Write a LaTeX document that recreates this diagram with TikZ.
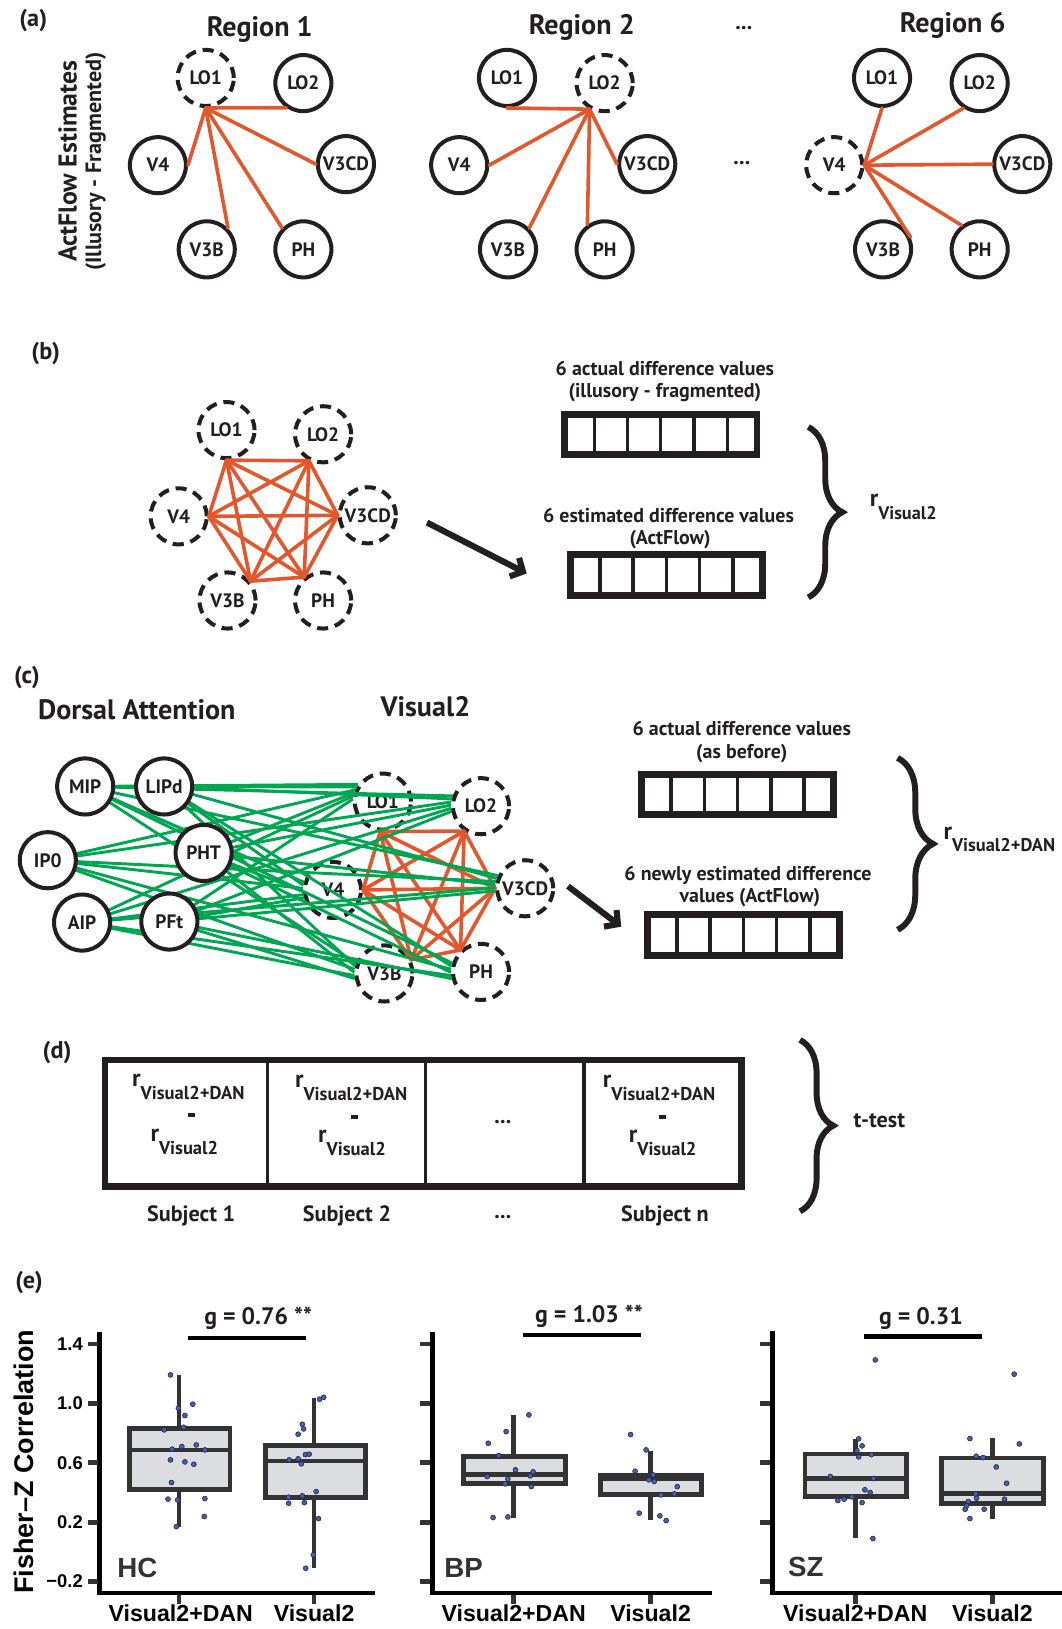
\documentclass[tikz,border=0pt]{standalone}
\usepackage{fontspec}
\setmainfont{PT Sans}
\newfontfamily\hvf{Liberation Sans}
\usetikzlibrary{arrows.meta,decorations.pathreplacing,calc}
\definecolor{ink}{RGB}{35,31,32}
\definecolor{ora}{RGB}{226,87,44}
\definecolor{grn}{RGB}{0,166,81}
\definecolor{dgray}{RGB}{51,51,51}
\definecolor{bxfill}{RGB}{220,221,224}
\definecolor{dotc}{RGB}{72,94,168}
\definecolor{dotl}{RGB}{28,36,84}
\newcommand{\fs}[1]{\fontsize{#1}{#1}\selectfont}
\newcommand{\rlab}[3]{{\fs{17.5}r}\raisebox{-#3}{\fs{#2}#1}}
\newcommand{\cellrow}[3]{%
  \node[vecbox] (#1) at (#2,#3) {};
  \foreach \k in {1,...,5}
    \draw[line width=2.5pt, draw=ink] ($(#1.north west)!\k/6!(#1.north east)$) -- ($(#1.south west)!\k/6!(#1.south east)$);
}
\newcommand{\bxp}[8]{%
  \draw[wsk] (#6,#7) -- (#6,#8);
  \draw[bxs] ({#1+2.3},{#3+2.3}) rectangle ({#2-2.3},{#4-2.3});
  \draw[wsk] ({#1+2.3},#5) -- ({#2-2.3},#5);
}
\begin{document}
\begin{tikzpicture}[x=0.75pt,y=-0.75pt,
  lab/.style={font=\bfseries\fs{14.4}, text=ink, inner sep=0pt},
  ttl/.style={font=\bfseries\fs{20.3}, text=ink, inner sep=0pt},
  plab/.style={font=\bfseries\fs{17.5}, text=ink, inner sep=0pt},
  roi/.style={circle, draw=ink, line width=2.9pt, minimum size=40.5pt, inner sep=0pt, font=\bfseries\fs{14}, text=ink},
  roid/.style={roi, dash pattern=on 8pt off 5pt},
  dan/.style={roi, fill=white},
  orl/.style={draw=ora, line width=2.6pt, line cap=round},
  grl/.style={draw=grn, line width=2.1pt},
  vecbox/.style={rectangle, draw=ink, line width=5pt, minimum width=139pt, minimum height=29pt, inner sep=0pt},
  bigarrow/.style={draw=ink, line width=4.4pt, -{Straight Barb[length=7pt,width=15pt]}},
  curly/.style={decorate, decoration={brace, amplitude=#1}, draw=ink, line width=4.3pt},
  axl/.style={draw=black, line width=3.5pt},
  tkl/.style={draw=dgray, line width=3.5pt},
  wsk/.style={draw=dgray, line width=3.45pt},
  bxs/.style={draw=dgray, fill=bxfill, line width=3.45pt},
  tkt/.style={font=\hvf\bfseries\fs{13.3}, text=black, inner sep=0pt},
  xlab/.style={font=\hvf\bfseries\fs{16.7}, text=black, inner sep=0pt},
  grp/.style={font=\hvf\bfseries\fs{20}, text=dgray, inner sep=0pt},
  gl/.style={font=\bfseries\fs{17.2}, text=ink, inner sep=0pt},
  sub/.style={font=\bfseries\fs{16}, text=ink, inner sep=0pt},
  dsh/.style={fill=ink, minimum width=5.2pt, minimum height=3.2pt, inner sep=0pt, rectangle},
  dotst/.style={fill=dotc, draw=dotl, line width=0.4pt}
]
\useasboundingbox (0,0) rectangle (1022,1568);

% ---------------- panel (a)
\node[plab, anchor=base] (la) at (32,25.7) {(a)};
\node[ttl, anchor=base] (r1t) at (250,35.3) {Region 1};
\node[ttl, anchor=base] (r2t) at (560,33) {Region 2};
\node[ttl, anchor=base] (r6t) at (917,31.5) {Region 6};
\node[font=\bfseries\fs{16}, text=ink, inner sep=0pt, anchor=base] (dtop) at (716,28) {...};
\node[font=\bfseries\fs{16}, text=ink, inner sep=0pt, anchor=base] (dmid) at (714,158) {...};
\node[rotate=90, font=\bfseries\fs{18.6}, text=ink, inner sep=0pt] (vl1) at (65,155) {ActFlow Estimates};
\node[rotate=90, font=\bfseries\fs{16}, text=ink, inner sep=0pt] (vl2) at (92,155.6) {(Illusory - Fragmented)};

\node[roid] (a1LO1) at (198,75) {LO1};
\node[roi] (a1LO2) at (292,80) {LO2};
\node[roi] (a1V4) at (152,159) {V4};
\node[roi] (a1V3CD) at (333,158) {V3CD};
\node[roi] (a1V3B) at (199,240) {V3B};
\node[roi] (a1PH) at (292,240) {PH};

\node[roi] (a2LO1) at (488,75) {LO1};
\node[roid] (a2LO2) at (582,80) {LO2};
\node[roi] (a2V4) at (442,159) {V4};
\node[roi] (a2V3CD) at (623,158) {V3CD};
\node[roi] (a2V3B) at (489,240) {V3B};
\node[roi] (a2PH) at (582,240) {PH};

\node[roi] (a6LO1) at (849,75) {LO1};
\node[roi] (a6LO2) at (943,80) {LO2};
\node[roid] (a6V4) at (803,159) {V4};
\node[roi] (a6V3CD) at (984,158) {V3CD};
\node[roi] (a6V3B) at (850,240) {V3B};
\node[roi] (a6PH) at (943,240) {PH};

\draw[orl] (a1LO1.south) -- (a1LO2.235);
\draw[orl] (a1LO1.south) -- (a1V4.east);
\draw[orl] (a1LO1.south) -- (a1V3CD.west);
\draw[orl] (a1LO1.south) -- (a1V3B.45);
\draw[orl] (a1LO1.south) -- (a1PH.135);

\draw[orl] (a2LO2.240) -- (a2LO1.south);
\draw[orl] (a2LO2.240) -- (a2V4.east);
\draw[orl] (a2LO2.240) -- (a2V3CD.west);
\draw[orl] (a2LO2.240) -- (a2V3B.45);
\draw[orl] (a2LO2.240) -- (a2PH.125);

\draw[orl] (a6V4.east) -- (a6LO1.south);
\draw[orl] (a6V4.east) -- (a6LO2.237);
\draw[orl] (a6V4.east) -- (a6V3CD.west);
\draw[orl] (a6V4.east) -- (a6V3B.24);
\draw[orl] (a6V4.east) -- (a6PH.127);

% ---------------- panel (b)
\node[plab, anchor=base] (lb) at (44,346.5) {(b)};
\node[roid] (bLO1) at (218,414) {LO1};
\node[roid] (bLO2) at (311,418) {LO2};
\node[roid] (bV4) at (172,497) {V4};
\node[roid] (bV3CD) at (354,496) {V3CD};
\node[roid] (bV3B) at (219,578) {V3B};
\node[roid] (bPH) at (311,578) {PH};
\coordinate (bA) at (bLO1.south);
\coordinate (bB) at (bLO2.242);
\coordinate (bC) at (bV4.east);
\coordinate (bD) at (bV3CD.west);
\coordinate (bE) at (bV3B.40);
\coordinate (bF) at (bPH.129);
\foreach \u/\v in {A/B,A/C,A/D,A/E,A/F,B/C,B/D,B/E,B/F,C/D,C/E,C/F,D/E,D/F,E/F}
  \draw[orl] (b\u) -- (b\v);

\coordinate (bas) at (411,503);
\coordinate (bae) at (507,552);
\draw[bigarrow] (bas) -- (bae);

\node[lab, anchor=base] (bt1) at (640,361.6) {6 actual difference values};
\node[lab, anchor=base] (bt2) at (640,383) {(illusory - fragmented)};
\cellrow{bx1}{636}{418.5}
\node[lab, anchor=base] (bt3) at (643.5,503) {6 estimated difference values};
\node[lab, anchor=base] (bt4) at (645,524.5) {(ActFlow)};
\cellrow{bx2}{641.5}{553.5}
\draw[curly=24.5pt] (778,411) -- (778,575);
\node[anchor=base west, inner sep=0pt, text=ink, font=\bfseries] (rb) at (837,487.6) {\rlab{Visual2}{13.2}{9.5pt}};

% ---------------- panel (c)
\node[plab, anchor=base] (lc) at (26,657.7) {(c)};
\node[ttl, anchor=base] (dant) at (131.7,693) {Dorsal Attention};
\node[ttl, anchor=base] (v2t) at (409.5,689.8) {Visual2};

\node[roid] (cLO1) at (368.5,771.6) {LO1};
\node[roid] (cLO2) at (463,776) {LO2};
\node[roid] (cV4) at (320.5,856.6) {V4};
\node[roid] (cV3CD) at (505.5,855) {V3CD};
\node[roid] (cV3B) at (370,937) {V3B};
\node[roid] (cPH) at (463,935.5) {PH};
\coordinate (cA) at (cLO1.265);
\coordinate (cB) at (cLO2.236);
\coordinate (cC) at (cV4.east);
\coordinate (cD) at (cV3CD.west);
\coordinate (cE) at (cV3B.27);
\coordinate (cF) at (cPH.133);
\foreach \u/\v in {A/B,A/C,A/D,A/E,A/F,B/C,B/D,B/E,B/F,C/D,C/E,C/F,D/E,D/F,E/F}
  \draw[orl] (c\u) -- (c\v);

\coordinate (sMIP) at (82,757);
\coordinate (sLIPd) at (158,757);
\coordinate (sIP0) at (46,828);
\coordinate (sPHT) at (196,821);
\coordinate (sAIP) at (79,888);
\coordinate (sPFt) at (163,887);
\foreach \s/\dd in {MIP/15, LIPd/9, IP0/3, PHT/-3, AIP/-9, PFt/-15} {
  \foreach \t/\ta in {cLO1/160, cLO2/175, cV4/180, cV3CD/170, cV3B/175, cPH/178} {
    \pgfmathtruncatemacro\ang{\ta-\dd}
    \draw[grl] (s\s) -- (\t.\ang);
  }
}
\node[dan] (cMIP) at (sMIP) {MIP};
\node[dan] (cLIPd) at (sLIPd) {LIPd};
\node[dan] (cIP0) at (sIP0) {IP0};
\node[dan] (cPHT) at (sPHT) {PHT};
\node[dan] (cAIP) at (sAIP) {AIP};
\node[dan] (cPFt) at (sPFt) {PFt};

\coordinate (cas) at (546.7,853);
\coordinate (cae) at (598,892);
\draw[bigarrow] (cas) -- (cae);

\node[lab, anchor=base] (ct1) at (714,708.4) {6 actual difference values};
\node[lab, anchor=base] (ct2) at (714,729.9) {(as before)};
\cellrow{cx1}{710}{765}
\node[lab, anchor=base] (ct3) at (720,847.6) {6 newly estimated difference};
\node[lab, anchor=base] (ct4) at (721.8,868.8) {values (ActFlow)};
\cellrow{cx2}{715.5}{900}
\draw[curly=25.5pt] (864,729.5) -- (864,895);
\node[anchor=base west, inner sep=0pt, text=ink, font=\bfseries] (rc) at (908,808.5) {\rlab{Visual2+DAN}{13.3}{8.5pt}};

% ---------------- panel (d)
\node[plab, anchor=base] (ld) at (55,1018.6) {(d)};
\node[rectangle, draw=ink, line width=4.8pt, minimum width=459.5pt, minimum height=91.2pt, inner sep=0pt] (dbox) at (407.5,1081) {};
\foreach \xv in {257.6,409.5,562}
  \draw[draw=ink, line width=2.4pt] (\xv,1019) -- (\xv,1143);
\node[anchor=base west, inner sep=0pt, text=ink, font=\bfseries] (d1u) at (127,1046) {\rlab{Visual2+DAN}{13.4}{9pt}};
\node[anchor=base west, inner sep=0pt, text=ink, font=\bfseries] (d1l) at (144.6,1099) {\rlab{Visual2}{13.4}{9pt}};
\node[dsh] (d1m) at (184.5,1073) {};
\node[anchor=base west, inner sep=0pt, text=ink, font=\bfseries] (d2u) at (283.7,1046.8) {\rlab{Visual2+DAN}{13.4}{9pt}};
\node[anchor=base west, inner sep=0pt, text=ink, font=\bfseries] (d2l) at (306,1099.8) {\rlab{Visual2}{13.4}{9pt}};
\node[dsh] (d2m) at (341,1075) {};
\node[sub, anchor=base] (d3m) at (484,1081) {...};
\node[anchor=base west, inner sep=0pt, text=ink, font=\bfseries] (d4u) at (580,1046.8) {\rlab{Visual2+DAN}{13.4}{9pt}};
\node[anchor=base west, inner sep=0pt, text=ink, font=\bfseries] (d4l) at (605,1100) {\rlab{Visual2}{13.4}{9pt}};
\node[dsh] (d4m) at (638,1075) {};
\node[sub, anchor=base] (s1) at (184,1175.8) {Subject 1};
\node[sub, anchor=base] (s2) at (334,1175.8) {Subject 2};
\node[sub, anchor=base] (s3) at (484,1173) {...};
\node[sub, anchor=base] (s4) at (640,1175.8) {Subject n};
\draw[curly=24pt] (770,1001) -- (770,1166);
\node[sub, anchor=base] (tt) at (846.4,1085) {t-test};

% ---------------- panel (e)
\node[plab, anchor=base] (le) at (28,1240) {(e)};
\node[rotate=90, font=\hvf\bfseries\fs{19.5}, text=black, inner sep=0pt] (fz) at (23,1407) {Fisher–Z Correlation};

\foreach \ax/\yt/\xend in {96/1281.7/360.6, 416/1281.7/685, 743.3/1280.7/1022} {
  \draw[axl] (\ax,\yt) -- (\ax,1535.6);
  \draw[axl] ({\ax-2.3},1533.3) -- (\xend,1533.3);
  \foreach \ty in {1293.6,1350.8,1408.0,1465.2,1522.4}
    \draw[tkl] ({\ax-11.5},\ty) -- ({\ax-2},\ty);
}
\foreach \xt in {172.3,302.3,494.5,626.2,823.2,955.3}
  \draw[tkl] (\xt,1535) -- (\xt,1543.5);

\node[tkt, anchor=east] (y14) at (80,1293.6) {1.4};
\node[tkt, anchor=east] (y10) at (80,1350.8) {1.0};
\node[tkt, anchor=east] (y06) at (80,1408.0) {0.6};
\node[tkt, anchor=east] (y02) at (80,1465.2) {0.2};
\node[tkt, anchor=east] (ym2) at (80,1522.4) {−0.2};

\bxp{122.6}{223.7}{1373}{1435.7}{1395.6}{172.3}{1323.4}{1469.4}
\bxp{253.5}{354}{1389}{1443.7}{1406.2}{302.3}{1345.8}{1509.5}
\bxp{443.5}{546.4}{1399.4}{1430.2}{1419.6}{494.5}{1361.9}{1460.7}
\bxp{575.4}{677.8}{1417.4}{1440.5}{1423.5}{626.2}{1396.2}{1463}
\bxp{772.6}{874.7}{1397.2}{1443}{1422.8}{823.2}{1385.3}{1480.6}
\bxp{904}{1006.8}{1401}{1449.5}{1437.3}{955.3}{1384.3}{1462.3}

\foreach \px/\py in {164.1/1323.4,171.7/1355.5,185.6/1351.6,178.0/1362.5,158.1/1376.3,176.7/1373.8,165.7/1394.9,175.0/1392.4,188.9/1390.8,197.2/1395.6,164.1/1405.2,178.0/1407.1,186.6/1409.4,165.1/1427.0,161.7/1443.0,171.0/1443.7,197.2/1442.4,196.6/1459.7,169.7/1469.4,
311.6/1344.9,307.6/1346.8,291.0/1370.9,292.3/1375.4,287.0/1380.5,278.4/1405.2,287.0/1404.2,294.0/1400.1,297.6/1399.7,290.0/1409.0,277.8/1441.1,277.8/1446.9,291.0/1439.8,293.0/1446.3,304.3/1435.7,306.6/1461.7,301.6/1496.6,294.3/1509.5,
470/1389.2,480/1401,487.2/1378,509.1/1361.9,496.2/1414.8,469/1421.2,488.9/1423.5,486.2/1428.3,510.4/1420.6,513.1/1416.7,511.4/1430.9,474.6/1460.7,488.9/1460.1,
607/1380.8,621.9/1395.6,611.3/1416.1,628.6/1419.6,624.6/1424.4,629.6/1426,651.9/1430.9,649.2/1437.9,636.2/1438.9,615.3/1456.5,635.2/1459.1,641.2/1463.6,
842.5/1309,826.5/1385,829.8/1391.7,824.8/1396.2,826.5/1402.3,838.8/1400.1,799.2/1421.2,840.8/1423.1,832.5/1434,837.5/1436.6,806.5/1444.3,812.5/1443,819.9/1440.8,829.8/1446.3,840.2/1480.9,
976.2/1322.7,933.6/1384.7,981.2/1389.8,939.6/1401.7,946.3/1403,958.9/1412,968.9/1427.7,939/1438,940/1442.1,966.9/1443,932/1445.3,930.3/1449.5,929/1452.7,947.3/1452.7,933.6/1461.7}
  \filldraw[dotst] (\px,\py) circle[radius=1.8pt];

\draw[draw=black, line width=3.4pt] (180.6,1288) -- (295,1288);
\draw[draw=black, line width=3.4pt] (503,1284.9) -- (617,1284.9);
\draw[draw=black, line width=3.4pt] (831.5,1286.2) -- (945.6,1286.2);
\node[gl, anchor=base] (g1) at (248.6,1275.3) {g = 0.76 **};
\node[gl, anchor=base] (g2) at (567,1273) {g = 1.03 **};
\node[gl, anchor=base] (g3) at (886.4,1274.6) {g = 0.31};

\node[grp, anchor=base west] (hc) at (112.7,1518.4) {HC};
\node[grp, anchor=base west] (bp) at (427.5,1518.4) {BP};
\node[grp, anchor=base west] (sz) at (758.4,1517.5) {SZ};

\node[xlab, anchor=base] (x1) at (174,1560.8) {Visual2+DAN};
\node[xlab, anchor=base] (x2) at (302.3,1560.8) {Visual2};
\node[xlab, anchor=base] (x3) at (494.5,1560.8) {Visual2+DAN};
\node[xlab, anchor=base] (x4) at (626.2,1560.8) {Visual2};
\node[xlab, anchor=base] (x5) at (823.2,1560.8) {Visual2+DAN};
\node[xlab, anchor=base] (x6) at (955.3,1560.8) {Visual2};
\end{tikzpicture}
\end{document}
